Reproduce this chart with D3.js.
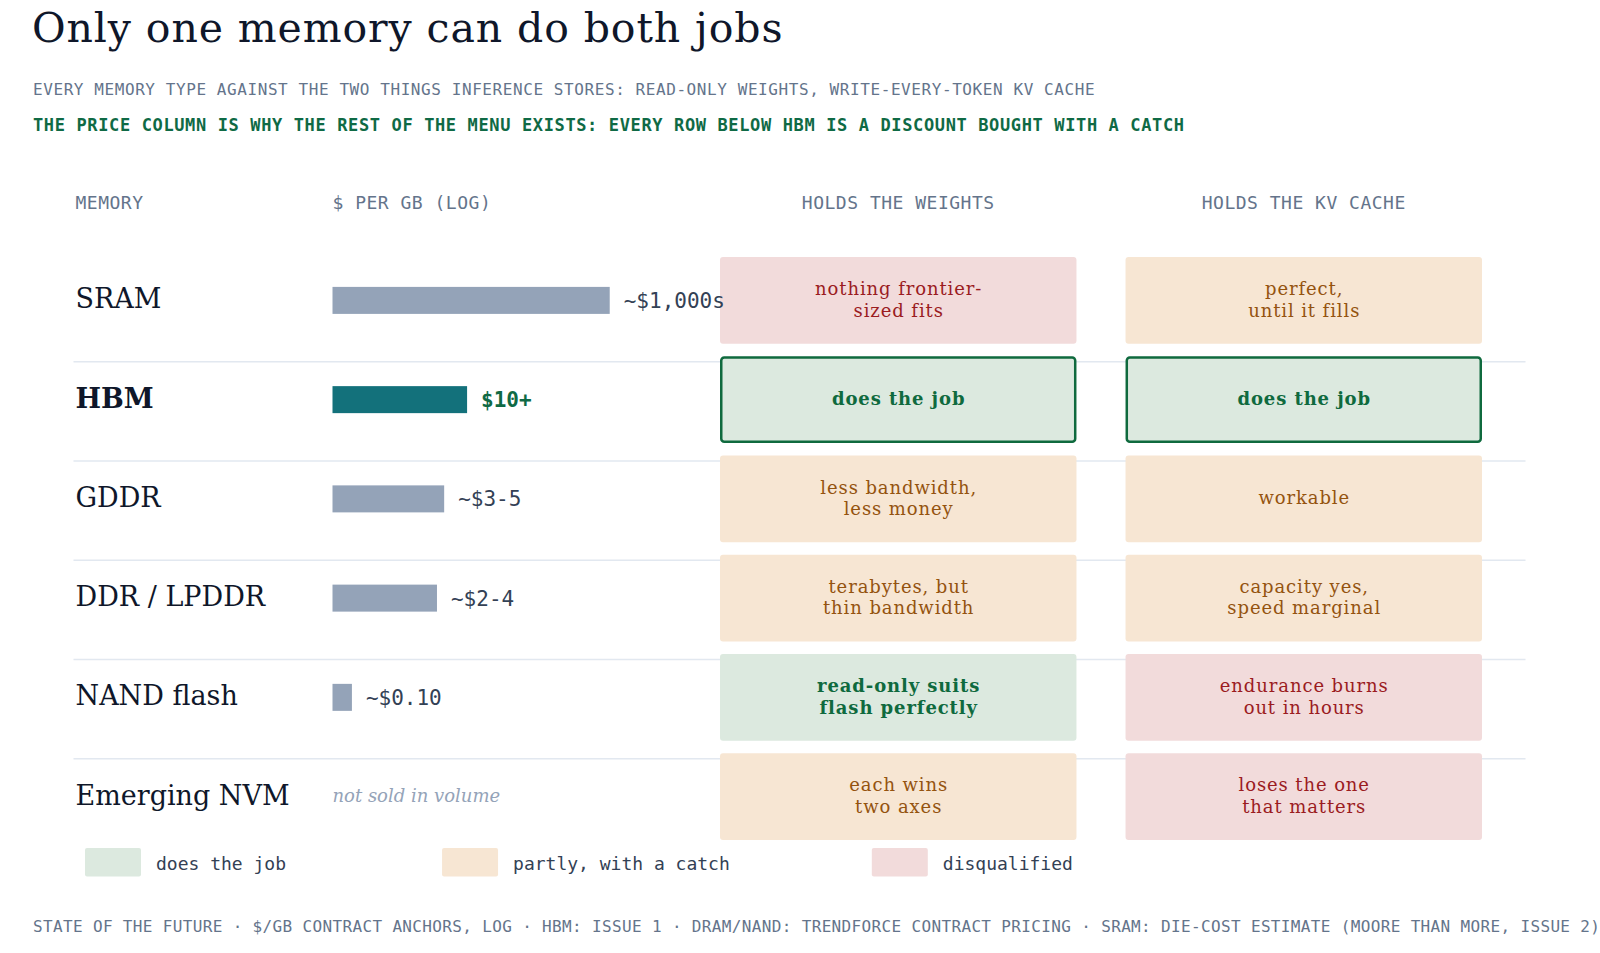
<!DOCTYPE html>
<html>
<head>
<meta charset="utf-8">
<script src="https://cdn.jsdelivr.net/npm/d3@7"></script>
<style>
  html, body { margin: 0; padding: 0; background: #ffffff; }
  svg { display: block; }
  .serif { font-family: "DejaVu Serif", serif; }
  .mono { font-family: "DejaVu Sans Mono", monospace; }
</style>
</head>
<body>
<div id="chart"></div>
<script>
// Values
const memories = ["SRAM", "HBM", "GDDR", "DDR / LPDDR", "NAND flash", "Emerging NVM"];
const pricePerGB = [3000, 10, 4, 3, 0.1, null];
const priceLabels = ["~$1,000s", "$10+", "~$3-5", "~$2-4", "~$0.10", null];
const weightsVerdict = ["no", "yes", "partly", "partly", "yes", "partly"];
const weightsNote = [
    "nothing frontier-\nsized fits",
    "does the job",
    "less bandwidth,\nless money",
    "terabytes, but\nthin bandwidth",
    "read-only suits\nflash perfectly",
    "each wins\ntwo axes"
];
const kvVerdict = ["partly", "yes", "partly", "partly", "no", "no"];
const kvNote = [
    "perfect,\nuntil it fills",
    "does the job",
    "workable",
    "capacity yes,\nspeed marginal",
    "endurance burns\nout in hours",
    "loses the one\nthat matters"
];
const highlightRow = "HBM";
const columns = ["weights", "kv"];
const columnHeaders = ["HOLDS THE WEIGHTS", "HOLDS THE KV CACHE"];
const legendKeys = ["yes", "partly", "no"];
const legendLabels = ["does the job", "partly, with a catch", "disqualified"];

const W = 1600, H = 953;
const fill = { yes: "#dce9df", partly: "#f7e6d3", no: "#f2dbdb" };
const ink = { yes: "#0f6a3e", partly: "#94530f", no: "#9b1c1f" };

const svg = d3.select("#chart").append("svg").attr("width", W).attr("height", H);

// Title block
svg.append("text").attr("class", "serif")
    .attr("x", 32).attr("y", 42)
    .attr("font-size", 41).attr("letter-spacing", "0.9px").attr("fill", "#0f172a")
    .text("Only one memory can do both jobs");

svg.append("text").attr("class", "mono")
    .attr("x", 33).attr("y", 95)
    .attr("font-size", 16).attr("letter-spacing", "0.58px").attr("fill", "#64748b")
    .text("EVERY MEMORY TYPE AGAINST THE TWO THINGS INFERENCE STORES: READ-ONLY WEIGHTS, WRITE-EVERY-TOKEN KV CACHE");

svg.append("text").attr("class", "mono")
    .attr("x", 33).attr("y", 130.5)
    .attr("font-size", 17).attr("font-weight", "bold").attr("letter-spacing", "0.63px").attr("fill", "#0f6a45")
    .text("THE PRICE COLUMN IS WHY THE REST OF THE MENU EXISTS: EVERY ROW BELOW HBM IS A DISCOUNT BOUGHT WITH A CATCH");

// Scales
const y = d3.scaleBand().domain(memories).range([257, 840]).paddingInner(0.1255).paddingOuter(0);
const col = d3.scaleBand().domain(columns).range([720, 1482]).paddingInner(0.121).paddingOuter(0);
const x = d3.scaleLog().domain([0.046, 5000]).range([0, 290]);
const barX0 = 332.5;
const labelX = 75.5;
const rowMid = d => y(d) + y.bandwidth() / 2;

// Column headers
const headerY = 209;
const headStyle = sel => sel.attr("class", "mono").attr("font-size", 18)
    .attr("letter-spacing", "0.5px").attr("fill", "#64748b").attr("y", headerY);
svg.append("text").call(headStyle).attr("x", labelX).text("MEMORY");
svg.append("text").call(headStyle).attr("x", barX0).text("$ PER GB (LOG)");
svg.selectAll(".colhead").data(columns).enter().append("text")
    .attr("class", "colhead").call(headStyle)
    .attr("x", d => col(d) + col.bandwidth() / 2)
    .attr("text-anchor", "middle")
    .text((d, i) => columnHeaders[i]);

// Row separators
svg.selectAll(".sep").data(memories.slice(1)).enter().append("line")
    .attr("x1", 73.5).attr("x2", 1525.5)
    .attr("y1", d => y(d) + 5.5).attr("y2", d => y(d) + 5.5)
    .attr("stroke", "#e2e8f0").attr("stroke-width", 1.5);

const rows = svg.selectAll(".row").data(memories).enter().append("g").attr("class", "row");

// Row names
rows.append("text").attr("class", "serif")
    .attr("x", labelX).attr("y", d => rowMid(d)).attr("dy", "0.3em")
    .attr("font-size", 27)
    .attr("font-weight", d => d === highlightRow ? "bold" : "normal")
    .attr("fill", "#0f172a")
    .text(d => d);

// Price bars
rows.filter((d, i) => pricePerGB[i] != null).append("rect")
    .attr("x", barX0)
    .attr("y", d => rowMid(d) - 13.5)
    .attr("height", 27)
    .attr("width", d => x(pricePerGB[memories.indexOf(d)]))
    .attr("fill", d => d === highlightRow ? "#13717b" : "#94a3b8");

// Verdict cells
const cells = [];
memories.forEach((m, i) => {
    cells.push({ row: m, col: "weights", verdict: weightsVerdict[i], note: weightsNote[i] });
    cells.push({ row: m, col: "kv", verdict: kvVerdict[i], note: kvNote[i] });
});

const cell = svg.selectAll(".cell").data(cells).enter().append("g").attr("class", "cell");

cell.append("rect")
    .attr("x", d => d.row === highlightRow ? col(d.col) + 1.25 : col(d.col))
    .attr("y", d => d.row === highlightRow ? y(d.row) + 1.25 : y(d.row))
    .attr("width", d => d.row === highlightRow ? col.bandwidth() - 2.5 : col.bandwidth())
    .attr("height", d => d.row === highlightRow ? y.bandwidth() - 2.5 : y.bandwidth())
    .attr("rx", 3)
    .attr("fill", d => fill[d.verdict])
    .attr("stroke", d => d.row === highlightRow ? "#0f6a3e" : "none")
    .attr("stroke-width", 2.5);

cell.each(function(d) {
    const lines = d.note.split("\n");
    const cx = col(d.col) + col.bandwidth() / 2;
    const cy = y(d.row) + y.bandwidth() / 2;
    const lh = 21.6;
    const first = cy + 5.5 - (lines.length - 1) * lh / 2;
    const t = d3.select(this).append("text").attr("class", "serif")
        .attr("text-anchor", "middle")
        .attr("font-size", 18)
        .attr("letter-spacing", "0.9px")
        .attr("font-weight", d.verdict === "yes" ? "bold" : "normal")
        .attr("fill", ink[d.verdict]);
    lines.forEach((ln, k) => {
        t.append("tspan").attr("x", cx + 0.45).attr("y", first + k * lh).text(ln);
    });
});

// Price labels sit on top of the cells (the SRAM one runs into its cell)
svg.selectAll(".price").data(memories).enter().append("text")
    .attr("class", d => pricePerGB[memories.indexOf(d)] != null ? "price mono" : "price serif")
    .attr("x", d => {
        const v = pricePerGB[memories.indexOf(d)];
        return v != null ? barX0 + x(v) + 14 : barX0;
    })
    .attr("y", d => rowMid(d))
    .attr("dy", d => pricePerGB[memories.indexOf(d)] != null ? "0.36em" : "0.3em")
    .attr("font-size", d => pricePerGB[memories.indexOf(d)] != null ? 21 : 18)
    .attr("font-style", d => pricePerGB[memories.indexOf(d)] != null ? "normal" : "italic")
    .attr("font-weight", d => d === highlightRow ? "bold" : "normal")
    .attr("fill", d => {
        const i = memories.indexOf(d);
        if (pricePerGB[i] == null) return "#94a3b8";
        return d === highlightRow ? "#0f6a45" : "#334155";
    })
    .text(d => {
        const i = memories.indexOf(d);
        return priceLabels[i] != null ? priceLabels[i] : "not sold in volume";
    });

// Legend
const legendGap = [156, 142];
let lx = 85;
const legend = svg.append("g");
legendKeys.forEach((k, i) => {
    legend.append("rect")
        .attr("x", lx).attr("y", 848).attr("width", 56).attr("height", 28.5)
        .attr("rx", 2).attr("fill", fill[k]);
    const t = legend.append("text").attr("class", "mono")
        .attr("x", lx + 71).attr("y", 869.5)
        .attr("font-size", 18).attr("fill", "#334155")
        .text(legendLabels[i]);
    if (i < legendGap.length) lx = lx + 71 + t.node().getComputedTextLength() + legendGap[i];
});

// Footer
svg.append("text").attr("class", "mono")
    .attr("x", 33).attr("y", 931.5)
    .attr("font-size", 16).attr("letter-spacing", "0.35px").attr("fill", "#64748b")
    .text("STATE OF THE FUTURE \u00b7 $/GB CONTRACT ANCHORS, LOG \u00b7 HBM: ISSUE 1 \u00b7 DRAM/NAND: TRENDFORCE CONTRACT PRICING \u00b7 SRAM: DIE-COST ESTIMATE (MOORE THAN MORE, ISSUE 2)");
</script>
</body>
</html>
